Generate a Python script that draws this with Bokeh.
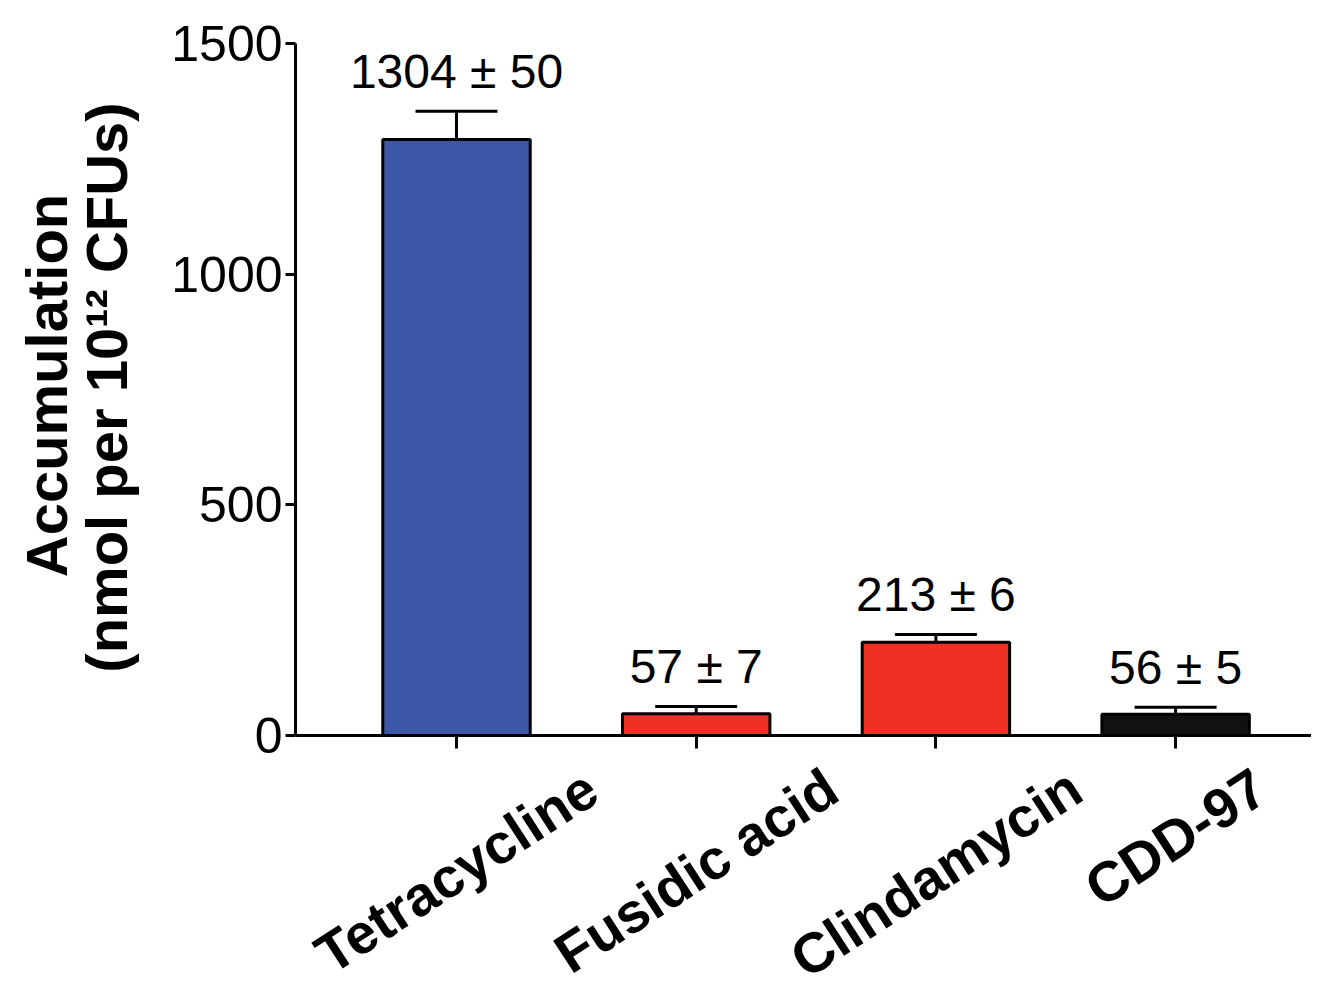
import math
from bokeh.plotting import figure
from bokeh.models import ColumnDataSource, Range1d, FixedTicker, Whisker, TeeHead
from bokeh.embed import file_html
from bokeh.resources import INLINE
from bokeh.core.properties import value

# ---- data ----
categories = ["Tetracycline", "Fusidic acid", "Clindamycin", "CDD-97"]
means = [1292, 47, 202, 46]
errors = [61, 16, 17, 15]
value_labels = ["1304 ± 50", "57 ± 7", "213 ± 6", "56 ± 5"]
colors = ["#3D57A7", "#EE3124", "#EE3124", "#111111"]
y_ticks = [0, 500, 1000, 1500]
y_title = ["Accumulation", "(nmol per 10\u00b9\u00b2 CFUs)"]

# ---- layout (pixels) ----
W, H = 1311, 991
X0_PX, PX_PER_X = 456.0, 239.7        # first category centre, category spacing
Y0_PX, PX_PER_Y = 735.0, 692.0 / 1500  # y = 0 line, pixels per unit
YAXIS_PX = 295.0


def dx(px):
    return (px - X0_PX) / PX_PER_X


def dy(px):
    return (Y0_PX - px) / PX_PER_Y


FONT = "Liberation Sans"
xs = list(range(len(categories)))
upper = [m + e for m, e in zip(means, errors)]
lab_y = [u + 40 / PX_PER_Y for u in upper]
src = ColumnDataSource(dict(x=xs, mean=means, upper=upper, lab_y=lab_y,
                            color=colors, lab=value_labels))

p = figure(width=W, height=H,
           x_range=Range1d(dx(0), dx(W)), y_range=Range1d(dy(H), dy(0)),
           output_backend="svg", toolbar_location=None, min_border=0)
p.outline_line_color = None
p.xgrid.visible = False
p.ygrid.visible = False
p.background_fill_color = "white"
p.border_fill_color = "white"

# bars
p.vbar(x="x", top="mean", bottom=0, width=0.615, source=src,
       fill_color="color", line_color="black", line_width=3)

# error bars (upper only)
p.add_layout(Whisker(source=src, base="x", lower="mean", upper="upper",
                     dimension="height", line_width=3, line_color="black",
                     upper_head=TeeHead(size=82, line_width=3, line_color="black"),
                     lower_head=None, level="overlay"))

# value annotations above the error bars
p.text(x="x", y="lab_y", text="lab", source=src,
       text_align="center", text_baseline="alphabetic",
       text_font=value(FONT), text_font_size="48px", text_color="black")

# y axis, drawn at a fixed location and limited to 0..1500
ya = p.yaxis[0]
ya.fixed_location = dx(YAXIS_PX)
ya.bounds = (y_ticks[0], y_ticks[-1])
ya.ticker = FixedTicker(ticks=y_ticks)
ya.major_label_text_font = FONT
ya.major_label_text_font_size = "50px"
ya.major_label_text_color = "black"
ya.major_tick_out = 10
ya.major_tick_in = 0
ya.minor_tick_out = 0
ya.minor_tick_in = 0
ya.axis_line_width = 3
ya.major_tick_line_width = 3
ya.major_label_standoff = 3

# x axis at y = 0 (tick marks only; names drawn rotated below)
xa = p.xaxis[0]
xa.fixed_location = 0
xa.bounds = (dx(YAXIS_PX), dx(W))
xa.ticker = FixedTicker(ticks=xs)
xa.major_label_overrides = {x: "" for x in xs}
xa.major_tick_out = 13
xa.major_tick_in = 0
xa.minor_tick_out = 0
xa.minor_tick_in = 0
xa.axis_line_width = 3
xa.major_tick_line_width = 3

# rotated category labels, centred under each tick, tops aligned
ANG = math.radians(33)
FS = 56
TOP_PX = 763
ARIAL_BOLD = {"T": 611, "e": 556, "t": 333, "r": 389, "a": 556, "c": 556, "y": 556,
              "l": 278, "i": 278, "n": 611, "F": 611, "u": 611, "s": 556, "d": 611,
              " ": 278, "C": 722, "m": 889, "D": 722, "-": 333, "9": 556, "7": 556}
cat_y = []
for c in categories:
    L = sum(ARIAL_BOLD.get(ch, 556) for ch in c) * FS / 1000
    bbox_h = L * math.sin(ANG) + 0.8 * FS * math.cos(ANG)
    cat_y.append(dy(TOP_PX + bbox_h / 2))
p.text(x=xs, y=cat_y, text=categories, angle=ANG,
       text_align="center", text_baseline="middle",
       text_font=value(FONT), text_font_size=f"{FS}px",
       text_font_style="bold", text_color="black")

# y-axis title (two lines, rotated)
p.text(x=[dx(46), dx(106)], y=[dy(385), dy(387)], text=y_title, angle=math.pi / 2,
       text_align="center", text_baseline="middle",
       text_font=value(FONT), text_font_size="58px",
       text_font_style="bold", text_color="black")

open("out.html", "w").write(file_html(p, INLINE))
